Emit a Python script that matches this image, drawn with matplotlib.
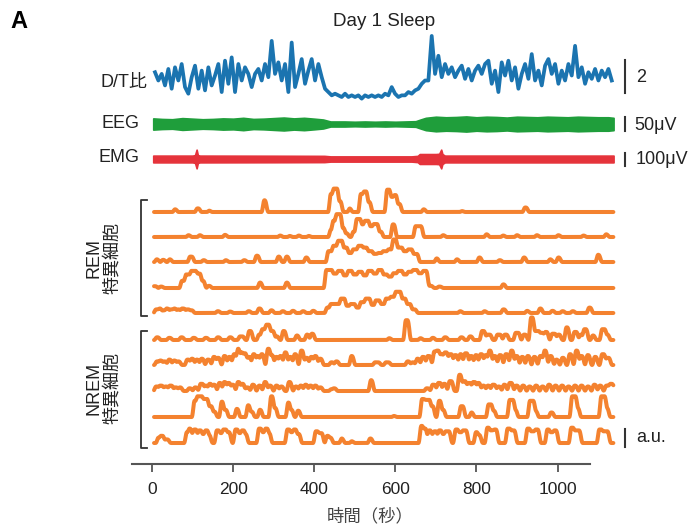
import numpy as np
import matplotlib.pyplot as plt

plt.rcParams['font.family'] = ['Liberation Sans', 'Noto Sans CJK JP']

# D/T ratio, one sample every 8.22 s starting at 7.4 s
dt_start, dt_step = 7.4, 8.22
dt_ratio = [
    2.5, 2.0, 2.4, 1.7, 2.7, 1.5, 2.8, 2.0, 3.0, 1.6,
    1.2, 2.2, 2.9, 1.5, 2.6, 1.4, 2.8, 1.7, 2.3, 3.0,
    1.3, 3.2, 1.8, 3.4, 1.3, 3.0, 2.0, 2.8, 2.4, 1.6,
    2.4, 2.7, 2.0, 3.0, 2.2, 4.4, 2.4, 3.1, 2.0, 3.0,
    1.3, 4.3, 1.6, 2.4, 3.3, 1.8, 2.6, 3.3, 2.0, 3.0,
    2.2, 1.5, 1.3, 1.1, 1.2, 1.1, 1.0, 1.2, 1.0, 1.1,
    1.0, 1.1, 0.9, 1.1, 1.0, 1.1, 1.0, 1.1, 1.0, 1.2,
    1.1,
    1.6, 1.2, 1.0, 1.1, 1.1, 1.3, 1.2, 1.4, 1.5, 1.8,
    2.0, 2.0, 4.7, 2.4, 3.5, 2.2, 3.0, 2.4, 2.8, 2.2,
    2.6, 2.9, 2.1, 2.7, 2.0, 2.6, 2.9, 2.4, 3.0, 3.2,
    1.8, 2.6, 1.3, 3.1, 2.3, 3.2, 2.0, 2.8, 1.5, 2.4,
    3.0, 2.1, 3.6, 2.0, 2.6, 1.7, 2.9, 3.3, 2.4, 3.0,
    1.8, 2.6, 2.0, 3.0, 2.3, 4.1, 2.2, 2.8, 1.8, 2.5,
    2.1, 2.7, 2.0, 2.6, 2.2, 2.7, 2.0,
]

# EEG / EMG envelope (half amplitude, uV)
eeg_t = [3, 25, 50, 75, 100, 125, 150, 175, 200, 225, 250, 275, 300, 325, 350,
         375, 400, 422, 440, 475, 500, 525, 550, 575, 600, 625, 650, 662, 675,
         700, 725, 750, 775, 800, 825, 850, 875, 900, 925, 950, 975, 1000, 1025,
         1050, 1075, 1100, 1125, 1138]
eeg_amp = [20, 18, 17, 21, 19, 17, 18, 20, 19, 22, 18, 19, 21, 23, 20,
           22, 19, 16, 9, 9, 8, 9, 8, 9, 8, 9, 10, 16, 22,
           26, 24, 25, 27, 24, 26, 25, 23, 26, 25, 24, 26, 25, 24,
           26, 25, 24, 24, 22]

emg_t = [3, 100, 106, 110, 113, 118, 300, 425, 440, 640, 655, 660, 700, 708,
         713, 716, 722, 1138]
emg_amp = [26, 26, 30, 72, 30, 26, 25, 24, 20, 20, 24, 38, 38, 40,
           72, 38, 26, 26]

# calcium events per cell: (start s, end s, height a.u.)
rem_cells = [
    [(55, 59, 0.15), (110, 116, 0.2), (140, 142, 0.08), (275, 280, 0.65),
     (439, 446, 1.0), (446, 458, 1.3), (458, 466, 0.6), (486, 489, 0.2),
     (513, 521, 1.0), (521, 530, 1.14), (530, 538, 0.55), (578, 587, 1.24),
     (587, 596, 0.84), (596, 603, 0.94), (603, 612, 0.45), (668, 672, 0.15),
     (763, 766, 0.05), (918, 924, 0.25)],
    [(88, 92, 0.1), (116, 120, 0.1), (178, 182, 0.12), (314, 318, 0.08),
     (338, 341, 0.06), (360, 364, 0.08), (385, 388, 0.06),
     (439, 445, 0.4), (445, 453, 0.9), (453, 466, 1.27), (466, 474, 0.5),
     (474, 482, 0.2), (495, 503, 0.3), (503, 515, 1.0), (515, 523, 0.7),
     (523, 535, 0.9), (535, 545, 0.6), (545, 557, 0.72), (557, 566, 0.3),
     (592, 598, 0.7), (648, 665, 0.6), (716, 720, 0.1), (823, 827, 0.15),
     (864, 868, 0.08), (898, 902, 0.1), (947, 951, 0.1), (1000, 1004, 0.1),
     (1062, 1066, 0.08), (1118, 1122, 0.15)],
    [(10, 14, 0.15), (25, 30, 0.12), (42, 46, 0.15), (92, 100, 0.3),
     (125, 130, 0.1), (180, 184, 0.1), (225, 230, 0.1), (256, 262, 0.35),
     (310, 315, 0.3), (330, 335, 0.3), (378, 383, 0.25),
     (433, 445, 0.6), (445, 457, 0.9), (457, 470, 1.18), (470, 482, 0.8),
     (482, 494, 0.5), (494, 507, 0.7), (507, 519, 0.9), (519, 531, 0.8),
     (531, 544, 0.6), (544, 556, 0.45), (556, 568, 0.5), (568, 581, 0.6),
     (581, 593, 0.7), (593, 603, 1.25), (603, 618, 0.8), (618, 630, 0.6),
     (630, 642, 0.7), (642, 655, 0.45), (700, 704, 0.2), (750, 754, 0.15),
     (805, 810, 0.25), (855, 860, 0.1), (915, 920, 0.25), (980, 984, 0.15),
     (1000, 1005, 0.25), (1098, 1103, 0.4)],
    [(5, 10, 0.1), (20, 25, 0.08), (72, 82, 0.4), (82, 95, 0.75),
     (95, 110, 0.95), (110, 120, 0.8), (120, 128, 0.4), (138, 143, 0.12),
     (264, 269, 0.3), (330, 335, 0.3),
     (428, 445, 1.0), (445, 457, 0.8), (457, 470, 0.95), (470, 482, 0.7),
     (482, 494, 0.95), (494, 507, 0.75), (507, 519, 0.9), (519, 531, 0.7),
     (531, 544, 0.95), (544, 556, 0.8), (556, 568, 1.0), (568, 581, 0.75),
     (581, 593, 0.63), (593, 605, 0.82), (605, 618, 0.95), (618, 630, 0.75),
     (630, 642, 0.9), (642, 655, 1.0), (655, 667, 0.82), (667, 678, 0.95),
     (680, 690, 0.12), (706, 712, 0.08), (864, 869, 0.2)],
    [(8, 14, 0.2), (16, 22, 0.25), (26, 32, 0.15), (34, 40, 0.25),
     (44, 50, 0.2), (52, 58, 0.25), (62, 68, 0.2), (72, 80, 0.25),
     (84, 92, 0.2), (94, 100, 0.15), (160, 165, 0.1), (190, 195, 0.08),
     (236, 241, 0.1), (262, 268, 0.25), (292, 297, 0.15), (320, 325, 0.1),
     (345, 350, 0.12), (370, 375, 0.1), (395, 400, 0.12),
     (430, 439, 0.3), (439, 451, 0.5), (451, 464, 0.5), (464, 476, 0.8),
     (476, 488, 0.4), (488, 501, 0.5), (501, 513, 0.3), (513, 525, 0.6),
     (525, 538, 0.8), (538, 550, 0.45), (550, 562, 0.7), (562, 575, 0.5),
     (575, 587, 0.8), (587, 599, 0.9), (599, 614, 1.18), (614, 626, 0.8),
     (626, 638, 0.5), (638, 650, 0.2), (758, 762, 0.1), (818, 822, 0.1),
     (864, 870, 0.2), (923, 927, 0.12), (955, 960, 0.25), (985, 990, 0.12),
     (1010, 1015, 0.1), (1035, 1040, 0.1), (1076, 1082, 0.3)],
]

nrem_cells = [
    [(10, 16, 0.15), (40, 46, 0.12), (70, 76, 0.15), (100, 106, 0.12),
     (130, 136, 0.12), (160, 166, 0.15), (190, 196, 0.15), (215, 225, 0.2),
     (238, 245, 0.5), (262, 270, 0.3), (270, 280, 0.6), (280, 290, 0.85),
     (290, 300, 0.5), (305, 310, 0.2), (322, 328, 0.5), (355, 360, 0.25),
     (380, 385, 0.3), (392, 398, 0.35), (583, 587, 0.1), (624, 632, 1.1),
     (660, 664, 0.1), (690, 695, 0.12), (720, 726, 0.15), (760, 766, 0.15),
     (782, 788, 0.2), (812, 820, 0.5), (825, 835, 0.3), (850, 860, 0.3),
     (868, 876, 0.3), (895, 905, 0.4), (915, 922, 0.3), (933, 940, 1.25),
     (940, 955, 0.5), (955, 965, 0.4), (968, 975, 0.45), (985, 995, 0.35),
     (1000, 1006, 0.3), (1020, 1026, 0.7), (1040, 1048, 0.45),
     (1055, 1060, 0.3), (1064, 1072, 0.6), (1085, 1090, 0.25),
     (1108, 1118, 0.6), (1118, 1125, 0.3)],
    [(10, 15, 0.2), (18, 24, 0.25), (28, 34, 0.2), (40, 46, 0.3),
     (52, 58, 0.25), (62, 68, 0.2), (85, 92, 0.3), (96, 102, 0.35),
     (108, 114, 0.3), (120, 126, 0.35), (135, 142, 0.3), (150, 156, 0.45),
     (160, 166, 0.4), (176, 182, 0.5), (188, 194, 0.45), (200, 206, 0.6),
     (210, 215, 0.9), (218, 224, 0.7), (226, 232, 0.65), (236, 242, 0.45),
     (248, 254, 0.6), (258, 264, 0.5), (268, 274, 0.6), (284, 290, 0.9),
     (292, 298, 0.55), (304, 310, 0.45), (314, 320, 0.5), (326, 332, 0.7),
     (338, 344, 0.45), (350, 356, 0.6), (366, 372, 0.8), (378, 384, 0.4),
     (390, 396, 0.45), (400, 406, 0.5), (412, 418, 0.35), (440, 446, 0.15),
     (452, 458, 0.2), (490, 495, 0.5), (548, 560, 0.15), (575, 585, 0.15),
     (628, 634, 0.2), (640, 646, 0.15), (652, 658, 0.35), (665, 672, 0.45),
     (678, 686, 0.5), (694, 700, 0.75), (700, 708, 0.8), (710, 718, 0.6),
     (720, 728, 0.7), (732, 740, 0.6), (745, 752, 0.55), (758, 764, 0.6),
     (770, 778, 0.65), (784, 790, 0.5), (796, 802, 0.55), (808, 815, 0.6),
     (820, 826, 0.55), (830, 836, 0.8), (842, 848, 0.5), (855, 862, 0.55),
     (870, 877, 0.6), (884, 890, 0.8), (896, 902, 0.5), (910, 916, 0.45),
     (924, 930, 0.5), (940, 946, 0.45), (955, 962, 0.5), (966, 972, 0.8),
     (980, 986, 0.5), (995, 1000, 0.3), (1010, 1016, 0.4), (1028, 1034, 0.6),
     (1044, 1050, 0.8), (1056, 1062, 0.5), (1072, 1078, 0.55),
     (1090, 1096, 0.45), (1108, 1116, 0.6), (1120, 1128, 0.4)],
    [(8, 15, 0.25), (18, 26, 0.3), (30, 38, 0.25), (42, 50, 0.3),
     (55, 62, 0.2), (66, 72, 0.2), (90, 96, 0.15), (104, 110, 0.2),
     (118, 126, 0.4), (130, 136, 0.3), (140, 146, 0.4), (150, 156, 0.35),
     (164, 170, 0.45), (176, 182, 0.5), (186, 192, 0.45), (196, 202, 0.35),
     (210, 216, 0.5), (220, 226, 0.4), (232, 238, 0.2), (246, 252, 0.35),
     (262, 268, 0.3), (276, 282, 0.5), (288, 294, 0.3), (304, 310, 0.3),
     (316, 322, 0.25), (336, 342, 0.5), (352, 358, 0.25), (364, 370, 0.3),
     (376, 382, 0.35), (388, 394, 0.3), (400, 406, 0.3), (412, 418, 0.2),
     (440, 446, 0.1), (446, 452, 0.15), (538, 543, 0.6), (675, 682, 0.15),
     (690, 698, 0.35), (704, 712, 0.45), (718, 724, 0.4), (732, 740, 0.55),
     (756, 762, 0.9), (766, 774, 0.55), (778, 786, 0.45), (790, 798, 0.5),
     (802, 808, 0.45), (814, 820, 0.3), (826, 832, 0.3), (838, 846, 0.35),
     (852, 858, 0.25), (866, 872, 0.35), (880, 888, 0.45), (896, 902, 0.3),
     (912, 918, 0.3), (928, 934, 0.25), (944, 950, 0.3), (960, 966, 0.25),
     (976, 982, 0.35), (992, 998, 0.3), (1008, 1014, 0.3), (1024, 1030, 0.25),
     (1040, 1046, 0.3), (1056, 1062, 0.3), (1072, 1078, 0.25),
     (1088, 1094, 0.35), (1102, 1108, 0.3), (1118, 1128, 0.3),
     (1128, 1136, 0.4)],
    [(103, 110, 0.9), (110, 125, 1.15), (125, 138, 1.0), (138, 148, 0.6),
     (148, 156, 0.3), (170, 175, 0.85), (175, 184, 0.4), (207, 212, 0.45),
     (235, 240, 0.65), (240, 248, 0.3), (264, 269, 0.4), (292, 298, 1.15),
     (298, 306, 0.5), (334, 339, 0.8), (339, 346, 0.4), (358, 363, 0.35),
     (595, 598, 0.06), (664, 672, 1.0), (672, 686, 0.95), (686, 694, 0.6),
     (706, 712, 0.9), (712, 720, 0.4), (760, 768, 0.6), (786, 790, 0.25),
     (828, 838, 0.7), (838, 845, 0.35), (880, 892, 0.95), (892, 898, 0.4),
     (930, 942, 0.9), (942, 948, 0.35), (982, 988, 0.25),
     (1034, 1046, 1.15), (1046, 1052, 0.5), (1106, 1118, 1.15),
     (1118, 1124, 0.5)],
    [(14, 20, 0.3), (20, 28, 0.4), (32, 40, 0.2),
     (84, 90, 0.6), (90, 96, 0.8), (96, 102, 0.55), (102, 110, 0.75),
     (114, 122, 0.7), (122, 130, 0.5), (130, 138, 0.7), (138, 143, 0.45),
     (158, 166, 0.7), (166, 174, 0.55), (174, 184, 0.75), (184, 192, 0.6),
     (204, 212, 0.75), (212, 220, 0.55), (220, 228, 0.7), (228, 233, 0.5),
     (262, 270, 0.8), (270, 278, 0.6), (278, 286, 0.8), (286, 291, 0.55),
     (332, 340, 0.75), (340, 348, 0.6), (348, 356, 0.75), (356, 364, 0.5),
     (402, 410, 0.65), (410, 420, 0.55), (430, 436, 0.4), (436, 442, 0.3),
     (466, 470, 0.25), (491, 494, 0.1), (536, 541, 0.25),
     (662, 668, 0.95), (668, 676, 0.8), (681, 688, 0.7), (688, 694, 0.5),
     (694, 702, 0.65), (706, 714, 0.7), (714, 722, 0.5), (722, 734, 0.65),
     (747, 755, 0.75), (755, 765, 0.6), (765, 776, 0.7), (797, 803, 0.6),
     (803, 809, 0.45), (825, 832, 0.85), (832, 842, 0.7), (842, 850, 0.75),
     (875, 884, 0.8), (884, 895, 0.7), (924, 932, 0.8), (932, 944, 0.65),
     (944, 953, 0.75), (973, 980, 0.75), (980, 990, 0.6), (990, 998, 0.7),
     (1032, 1040, 0.85), (1040, 1055, 0.7), (1101, 1110, 0.75),
     (1110, 1125, 0.65)],
]

x_ticks = [0, 200, 400, 600, 800, 1000]

blue = '#1b74b0'
green = '#1f9e3b'
red = '#e5333b'
orange = '#f4822f'
ink = '#222222'
bar_col = '#333333'


def cell_trace(events, t):
    # trapezoid per event, then a short boxcar to round the corners
    y = np.zeros_like(t)
    for t0, t1, h in events:
        rise = np.clip((t - (t0 - 3.0)) / 3.0, 0, 1)
        fall = np.clip(((t1 + 5.0) - t) / 5.0, 0, 1)
        y = np.maximum(y, h * np.minimum(rise, fall))
    k = np.ones(9) / 9
    return np.convolve(np.pad(y, 4, mode='edge'), k, mode='valid')


fig = plt.figure(figsize=(6.95, 5.26), dpi=100)
ax = fig.add_axes([0, 0, 1, 1])
# x in seconds, y in screen rows (downwards)
ax.set_xlim(-374.8, 1338.8)
ax.set_ylim(526, 0)

# D/T ratio
dt_base, dt_gain = 113.5, 16.5
dt_t = dt_start + dt_step * np.arange(len(dt_ratio))
ax.plot(dt_t, dt_base - dt_gain * np.array(dt_ratio), color=blue, lw=2.7)

# EEG and EMG bands
eeg_mid, eeg_gain = 124, 14 / 50
emg_mid, emg_gain = 159, 13 / 100
ax.fill_between(eeg_t, eeg_mid - eeg_gain * np.array(eeg_amp),
                eeg_mid + eeg_gain * np.array(eeg_amp), color=green, lw=1.2)
ax.fill_between(emg_t, emg_mid - emg_gain * np.array(emg_amp),
                emg_mid + emg_gain * np.array(emg_amp), color=red, lw=1.2)

# calcium traces
t = np.arange(5, 1138, 0.5)
cell_gain = 18
rows = [212, 237, 262, 288, 313, 340, 365, 391, 417, 443]
for base, ev in zip(rows, rem_cells + nrem_cells):
    ax.plot(t, base - cell_gain * cell_trace(ev, t), color=orange, lw=2.9,
            solid_joinstyle='round', solid_capstyle='round')

# scale bars
bx = 1166
ax.plot([bx, bx], [93, 93 - 2 * dt_gain], color=bar_col, lw=1.5)
ax.plot([bx, bx], [eeg_mid + 7, eeg_mid + 7 - 50 * eeg_gain], color=bar_col, lw=1.5)
ax.plot([bx, bx], [emg_mid + 6.5, emg_mid + 6.5 - 100 * emg_gain], color=bar_col, lw=1.5)
ax.plot([bx, bx], [447, 447 - cell_gain], color=bar_col, lw=1.5)
ax.text(bx + 27, 78, '2', fontsize=13, color=ink, va='center')
ax.text(bx + 22, 125, '50μV', fontsize=13, color=ink, va='center')
ax.text(bx + 27, 159, '100μV', fontsize=13, color=ink, va='center')
ax.text(bx + 27, 438, 'a.u.', fontsize=13, color=ink, va='center')

# trace labels
ax.text(-12, 83, 'D/T比', fontsize=13, color=ink, ha='right', va='center')
ax.text(-30, 124, 'EEG', fontsize=13, color=ink, ha='right', va='center')
ax.text(-30, 158, 'EMG', fontsize=13, color=ink, ha='right', va='center')

# group brackets
for y0, y1, name, yc in [(200, 316, 'REM\n特異細胞', 258),
                         (331, 448, 'NREM\n特異細胞', 388)]:
    ax.plot([-12, -27, -27, -12], [y0, y0, y1, y1], color=bar_col, lw=1.3)
    ax.text(-121, yc, name, fontsize=13, color=ink, rotation=90,
            ha='center', va='center', multialignment='center', linespacing=1.1)

# time axis
for side in ['left', 'right', 'top']:
    ax.spines[side].set_visible(False)
ax.spines['bottom'].set_position(('data', 464))
ax.spines['bottom'].set_bounds(-49, 1080)
ax.spines['bottom'].set_color('#555555')
ax.spines['bottom'].set_linewidth(1.5)
ax.set_yticks([])
ax.set_xticks(x_ticks)
ax.tick_params(axis='x', direction='out', length=6, width=1.3, color='#555555',
               labelsize=12.5, labelcolor=ink, pad=7)
ax.text(538, 516, '時間（秒）', fontsize=12.5, color='#444444',
        ha='center', va='center')

ax.text(-350, 22, 'A', fontsize=17, fontweight='bold', color='black', va='center')
ax.text(572, 22, 'Day 1 Sleep', fontsize=13.5, color=ink, ha='center', va='center')

fig.savefig('out.png', dpi=100)
